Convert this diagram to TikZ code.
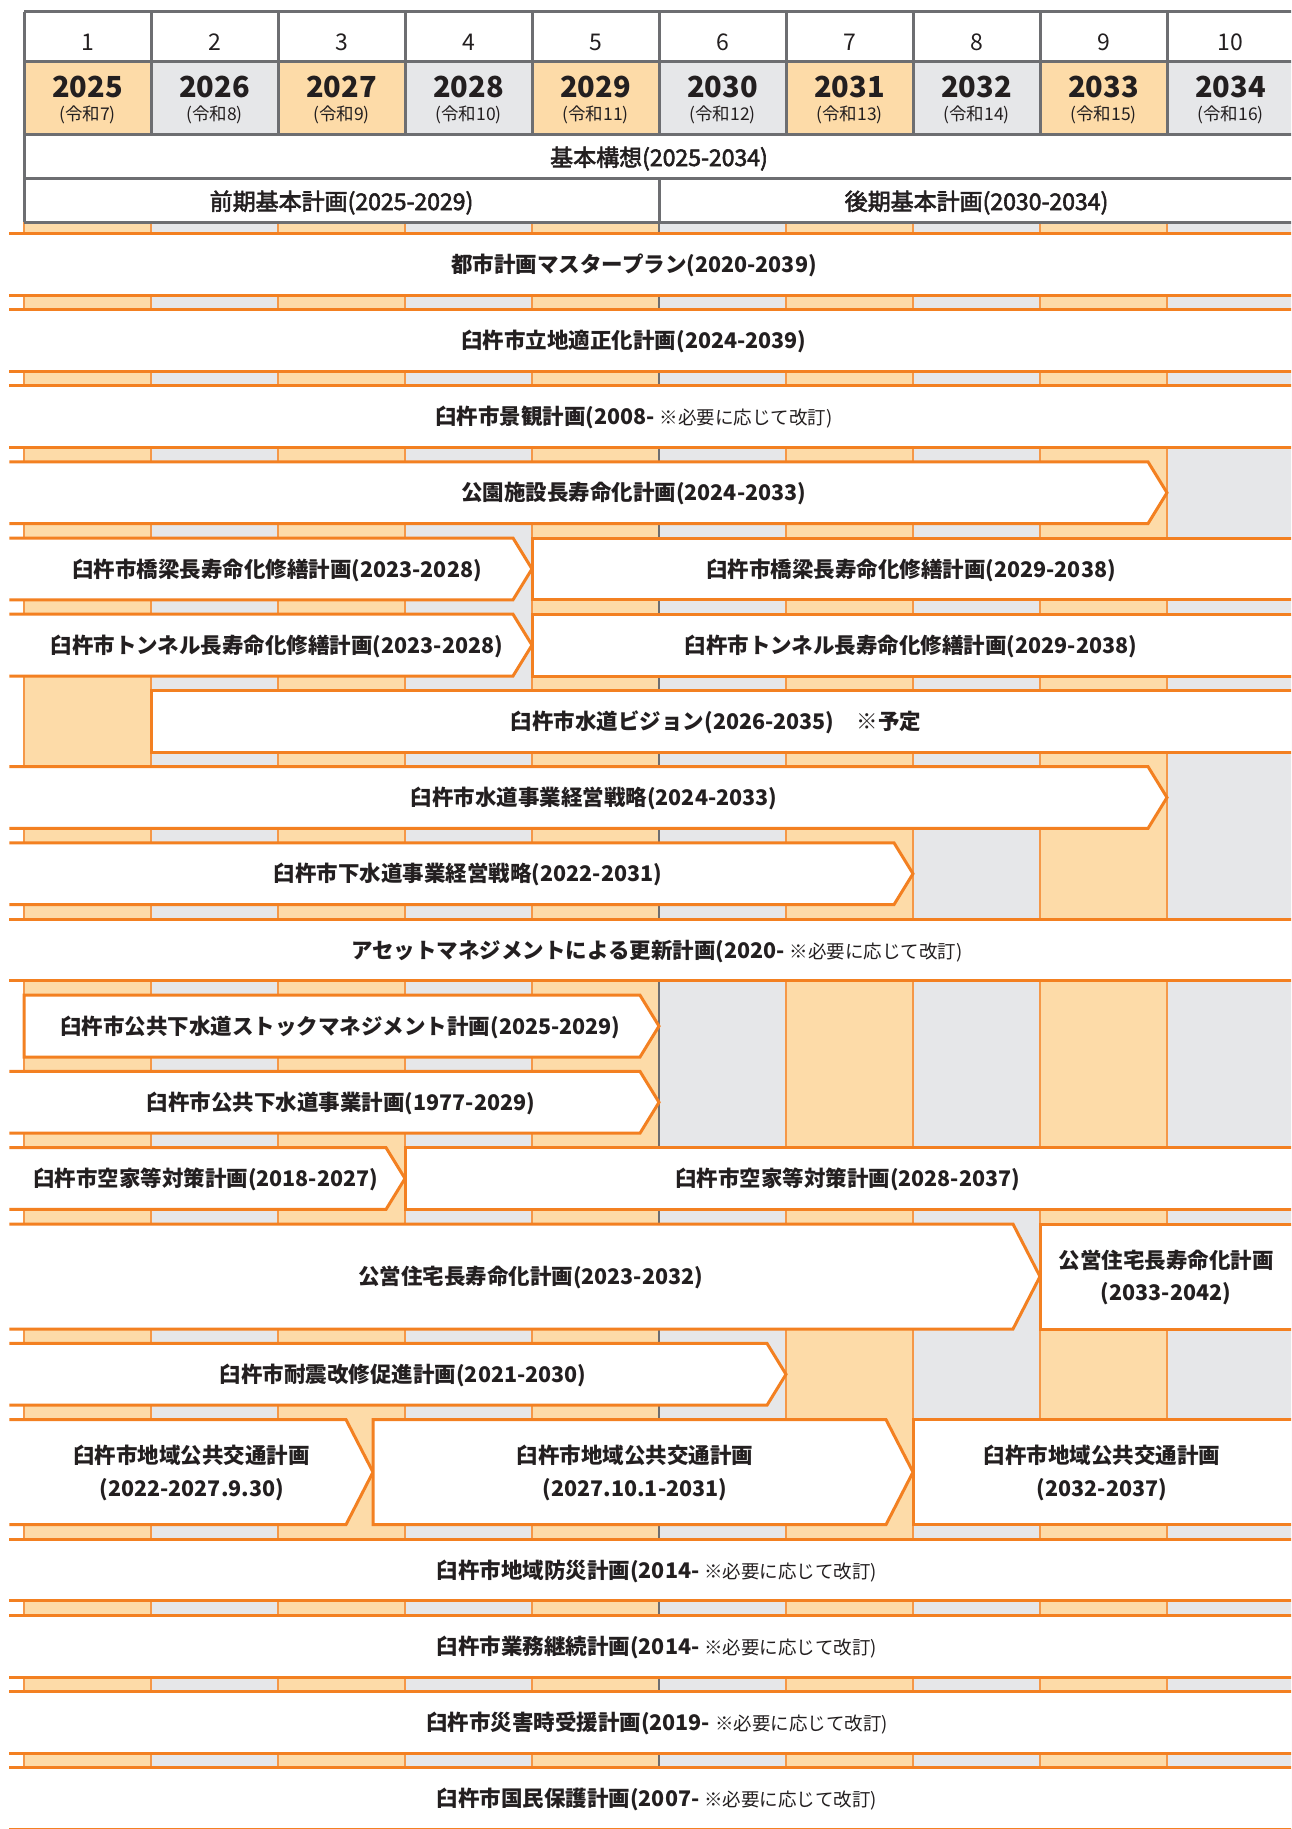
\documentclass[tikz,border=0pt]{standalone}
\usepackage{fontspec}
\setmainfont{Noto Sans CJK JP}
\newfontfamily\jpmed[FakeBold=2.5]{Noto Sans CJK JP}
\definecolor{lo}{RGB}{243,128,33}
\definecolor{so}{RGB}{245,152,72}
\definecolor{fo}{RGB}{253,219,168}
\definecolor{fg}{RGB}{230,231,233}
\definecolor{hg}{RGB}{109,110,113}
\definecolor{tx}{RGB}{35,31,32}
\newcommand\fullbar[2]{%
  \fill[white] (9.3,#1) rectangle (1294,#2);
  \draw[barline] (9.3,#1) -- (1294,#1) (9.3,#2) -- (1294,#2);}
\newcommand\openarrow[4]{%
  \fill[white] (9.3,#2) -- ({#1-#4},#2) -- (#1,{(#2+#3)/2}) -- ({#1-#4},#3) -- (9.3,#3) -- cycle;
  \draw[barline] (9.3,#2) -- ({#1-#4},#2) -- (#1,{(#2+#3)/2}) -- ({#1-#4},#3) -- (9.3,#3);}
\newcommand\closedarrow[5]{%
  \filldraw[barline,fill=white] (#1,#3) -- ({#2-#5},#3) -- (#2,{(#3+#4)/2}) -- ({#2-#5},#4) -- (#1,#4) -- cycle;}
\newcommand\openbox[3]{%
  \fill[white] (#1,#2) rectangle (1294,#3);
  \draw[barline] (1294,#2) -- (#1,#2) -- (#1,#3) -- (1294,#3);}
\newcommand\kaitei{\hspace{5pt}{\fontsize{18.5}{22}\selectfont\mdseries ※必要に応じて改訂)}}
\begin{document}
\begin{tikzpicture}[x=1pt,y=-1pt,
  barline/.style={draw=lo,line width=3pt,line join=miter},
  hgrid/.style={draw=hg,line width=3pt},
  lab/.style={font=\fontsize{21.5}{26}\selectfont\bfseries,text=tx,inner sep=0pt,text height=18.9pt,text depth=2.6pt},
  hdt/.style={font=\jpmed\fontsize{23}{26}\selectfont,text=tx,inner sep=0pt,text height=20.2pt,text depth=2.8pt},
  numt/.style={font=\fontsize{23}{26}\selectfont,text=tx,inner sep=0pt,anchor=base},
  yeart/.style={font=\fontsize{29}{32}\selectfont\bfseries,text=tx,inner sep=0pt,anchor=base},
  reit/.style={font=\fontsize{17.5}{20}\selectfont,text=tx,inner sep=0pt,anchor=base}]
\useasboundingbox (0,0) rectangle (1291,1829);
\clip (0,0) rectangle (1291,1829);
\fill[white] (0,0) rectangle (1291,1829);
% background columns
\foreach \i/\c in {0/fo,1/fg,2/fo,3/fg,4/fo,5/fg,6/fo,7/fg,8/fo,9/fg}{
  \fill[\c] ({24+127*\i},222.3) rectangle ({151+127*\i},1829);}
\foreach \i in {0,...,10}{
  \draw[so,line width=1.2pt] ({24+127*\i},222.3) -- ({24+127*\i},1829);}
\draw[hg,line width=2.5pt] (659,222.3) -- (659,1829);
% header
\fill[white] (24,11.7) rectangle (1294,61.7);
\foreach \i/\c in {0/fo,1/fg,2/fo,3/fg,4/fo,5/fg,6/fo,7/fg,8/fo,9/fg}{
  \fill[\c] ({24+127*\i},61.7) rectangle ({151+127*\i},134.3);}
\fill[white] (24,134.3) rectangle (1294,222.3);
\foreach \yy in {11.7,61.7,134.3,178.3,222.3}{\draw[hgrid] (24,\yy) -- (1294,\yy);}
\foreach \i in {0,...,10}{\draw[hgrid] ({24+127*\i},11.7) -- ({24+127*\i},134.3);}
\draw[hgrid] (24,134.3) -- (24,222.3);
\draw[hgrid] (659,178.3) -- (659,222.3);
\foreach \i/\yr/\r in {1/2025/7,2/2026/8,3/2027/9,4/2028/10,5/2029/11,6/2030/12,7/2031/13,8/2032/14,9/2033/15,10/2034/16}{
  \node[numt] (num\i) at ({87.5+127*(\i-1)},50) {\i};
  \node[yeart] (yr\i) at ({87.5+127*(\i-1)},97.7) {\yr};
  \node[reit] (rw\i) at ({87.5+127*(\i-1)},120.4) {(令和\r)};}
\node[hdt] (kihon) at (659,157.3) {基本構想(2025-2034)};
\node[hdt] (zenki) at (341.5,201.3) {前期基本計画(2025-2029)};
\node[hdt] (kouki) at (976.5,201.3) {後期基本計画(2030-2034)};
% bars
\fullbar{233.2}{295.0}
\fullbar{309.4}{371.2}
\fullbar{385.6}{447.4}
\openarrow{1167}{461.8}{523.6}{19}
\openarrow{532}{538.0}{599.8}{19}\openbox{532}{538.0}{599.8}
\openarrow{532}{614.2}{676.0}{19}\openbox{532}{614.2}{676.0}
\openbox{151}{690.4}{752.2}
\openarrow{1167}{766.6}{828.4}{19}
\openarrow{913}{842.8}{904.6}{19}
\fullbar{919.0}{980.8}
\closedarrow{24}{659}{995.2}{1057.0}{19}
\openarrow{659}{1071.4}{1133.2}{19}
\openarrow{405}{1147.6}{1209.4}{19}\openbox{405}{1147.6}{1209.4}
\openarrow{1040}{1224.0}{1329.0}{27}\openbox{1040}{1224.0}{1329.0}
\openarrow{786}{1343.4}{1405.2}{19}
\openarrow{373}{1419.6}{1524.6}{27}\closedarrow{373}{913}{1419.6}{1524.6}{27}\openbox{913}{1419.6}{1524.6}
\fullbar{1539.0}{1600.8}
\fullbar{1615.2}{1677.0}
\fullbar{1691.4}{1753.2}
\fullbar{1767.6}{1829.4}
% labels
\node[lab] (L1) at (634,264.1) {都市計画マスタープラン(2020-2039)};
\node[lab] (L2) at (634,340.3) {臼杵市立地適正化計画(2024-2039)};
\node[lab] (L3) at (634,416.5) {臼杵市景観計画(2008-\kaitei};
\node[lab] (L4) at (633.7,492.7) {公園施設長寿命化計画(2024-2033)};
\node[lab] (L5a) at (277,568.9) {臼杵市橋梁長寿命化修繕計画(2023-2028)};
\node[lab] (L5b) at (911,568.9) {臼杵市橋梁長寿命化修繕計画(2029-2038)};
\node[lab] (L6a) at (277,645.1) {臼杵市トンネル長寿命化修繕計画(2023-2028)};
\node[lab] (L6b) at (911,645.1) {臼杵市トンネル長寿命化修繕計画(2029-2038)};
\node[lab] (L7) at (716,721.3) {臼杵市水道ビジョン(2026-2035)\hspace{22pt}※予定};
\node[lab] (L8) at (594,797.5) {臼杵市水道事業経営戦略(2024-2033)};
\node[lab] (L9) at (468,873.7) {臼杵市下水道事業経営戦略(2022-2031)};
\node[lab] (L10) at (657,949.9) {アセットマネジメントによる更新計画(2020-\kaitei};
\node[lab] (L11) at (340.5,1026.1) {臼杵市公共下水道ストックマネジメント計画(2025-2029)};
\node[lab] (L12) at (341,1102.3) {臼杵市公共下水道事業計画(1977-2029)};
\node[lab] (L13a) at (205.6,1178.5) {臼杵市空家等対策計画(2018-2027)};
\node[lab] (L13b) at (847.6,1178.5) {臼杵市空家等対策計画(2028-2037)};
\node[lab] (L14a) at (530.6,1276.5) {公営住宅長寿命化計画(2023-2032)};
\node[lab] (L14b1) at (1166,1260.2) {公営住宅長寿命化計画};
\node[lab] (L14b2) at (1166,1292.8) {(2033-2042)};
\node[lab] (L15) at (403.2,1374.3) {臼杵市耐震改修促進計画(2021-2030)};
\node[lab] (L16a1) at (191.7,1455.8) {臼杵市地域公共交通計画};
\node[lab] (L16a2) at (191.7,1488.4) {(2022-2027.9.30)};
\node[lab] (L16b1) at (635,1455.8) {臼杵市地域公共交通計画};
\node[lab] (L16b2) at (635,1488.4) {(2027.10.1-2031)};
\node[lab] (L16c1) at (1102,1455.8) {臼杵市地域公共交通計画};
\node[lab] (L16c2) at (1102,1488.4) {(2032-2037)};
\node[lab] (L17) at (657,1569.9) {臼杵市地域防災計画(2014-\kaitei};
\node[lab] (L18) at (657,1646.1) {臼杵市業務継続計画(2014-\kaitei};
\node[lab] (L19) at (657,1722.3) {臼杵市災害時受援計画(2019-\kaitei};
\node[lab] (L20) at (657,1798.5) {臼杵市国民保護計画(2007-\kaitei};
\end{tikzpicture}
\end{document}
